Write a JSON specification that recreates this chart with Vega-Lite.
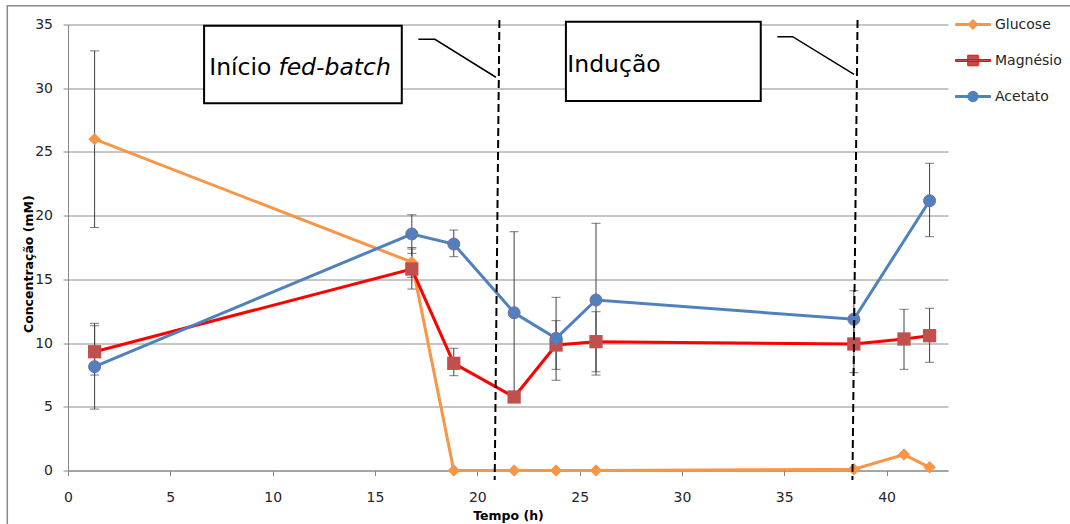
{
  "$schema": "https://vega.github.io/schema/vega-lite/v6.json",
  "width": 880,
  "height": 446,
  "autosize": {"type": "none"},
  "padding": {"left": 68, "top": 24.5, "right": 122, "bottom": 53.5},
  "background": "white",
  "config": {
    "view": {"stroke": null},
    "font": "DejaVu Sans",
    "axis": {
      "labelFont": "DejaVu Sans",
      "labelFontSize": 14,
      "labelColor": "#262626",
      "titleFont": "DejaVu Sans",
      "titleFontSize": 12.5,
      "titleFontWeight": "bold",
      "titleColor": "#000000",
      "domainColor": "#868686",
      "tickColor": "#868686",
      "tickSize": 5,
      "gridColor": "#8c8c8c",
      "labelFlush": false,
      "labelOverlap": false,
      "labelBound": false
    },
    "axisX": {"grid": false, "labelPadding": 15, "titleY": 49, "titleBaseline": "alphabetic"},
    "axisY": {"grid": true, "labelPadding": 10.5, "titleX": -36, "titleY": 239.2, "titleAngle": -90, "titleBaseline": "alphabetic", "titleAlign": "center"}
  },
  "datasets": {
    "series": [
      {"s": "Glucose", "t": 1.3, "v": 26.0, "lo": 19.07, "hi": 32.93},
      {"s": "Glucose", "t": 16.8, "v": 16.35, "lo": 15.16, "hi": 17.5},
      {"s": "Glucose", "t": 18.85, "v": 0.0, "lo": null, "hi": null},
      {"s": "Glucose", "t": 21.8, "v": 0.0, "lo": null, "hi": null},
      {"s": "Glucose", "t": 23.85, "v": 0.0, "lo": null, "hi": null},
      {"s": "Glucose", "t": 25.8, "v": 0.0, "lo": null, "hi": null},
      {"s": "Glucose", "t": 38.4, "v": 0.1, "lo": null, "hi": null},
      {"s": "Glucose", "t": 40.85, "v": 1.25, "lo": null, "hi": null},
      {"s": "Glucose", "t": 42.1, "v": 0.25, "lo": null, "hi": null},
      {"s": "Magnésio", "t": 1.3, "v": 9.32, "lo": 7.49, "hi": 11.36},
      {"s": "Magnésio", "t": 16.8, "v": 15.81, "lo": 14.24, "hi": 17.38},
      {"s": "Magnésio", "t": 18.85, "v": 8.41, "lo": 7.44, "hi": 9.59},
      {"s": "Magnésio", "t": 21.8, "v": 5.77, "lo": null, "hi": null},
      {"s": "Magnésio", "t": 23.85, "v": 9.85, "lo": 7.94, "hi": 11.76},
      {"s": "Magnésio", "t": 25.8, "v": 10.11, "lo": 7.75, "hi": 12.46},
      {"s": "Magnésio", "t": 38.4, "v": 9.93, "lo": 7.68, "hi": 12.18},
      {"s": "Magnésio", "t": 40.85, "v": 10.32, "lo": 7.94, "hi": 12.65},
      {"s": "Magnésio", "t": 42.1, "v": 10.58, "lo": 8.49, "hi": 12.73},
      {"s": "Acetato", "t": 1.3, "v": 8.15, "lo": 4.82, "hi": 11.55},
      {"s": "Acetato", "t": 16.8, "v": 18.56, "lo": 17.04, "hi": 20.07},
      {"s": "Acetato", "t": 18.85, "v": 17.77, "lo": 16.78, "hi": 18.87},
      {"s": "Acetato", "t": 21.8, "v": 12.38, "lo": 6.02, "hi": 18.74},
      {"s": "Acetato", "t": 23.85, "v": 10.37, "lo": 7.08, "hi": 13.59},
      {"s": "Acetato", "t": 25.8, "v": 13.38, "lo": 7.49, "hi": 19.4},
      {"s": "Acetato", "t": 38.4, "v": 11.87, "lo": 9.63, "hi": 14.11},
      {"s": "Acetato", "t": 42.1, "v": 21.17, "lo": 18.35, "hi": 24.11}
    ],
    "frame": [{"x": -2.966, "x2": 49.5, "y": 36.475, "y2": -5}],
    "boxes": [
      {"x": 6.65, "x2": 16.31, "y": 34.91, "y2": 28.82},
      {"x": 24.33, "x2": 33.85, "y": 35.22, "y2": 29.0}
    ],
    "dashes": [
      {"x": 21.08, "y": 35.35, "x2": 20.85, "y2": -0.75},
      {"x": 38.58, "y": 35.35, "x2": 38.33, "y2": -0.75}
    ],
    "callouts": [
      {"id": 1, "o": 1, "x": 17.12, "y": 33.84},
      {"id": 1, "o": 2, "x": 17.93, "y": 33.84},
      {"id": 1, "o": 3, "x": 20.91, "y": 30.86},
      {"id": 2, "o": 1, "x": 34.66, "y": 34.04},
      {"id": 2, "o": 2, "x": 35.41, "y": 34.04},
      {"id": 2, "o": 3, "x": 38.41, "y": 31.09}
    ],
    "textNormal": [
      {"label": "Início", "x": 6.9, "y": 31.04},
      {"label": "Indução", "x": 24.4, "y": 31.3}
    ],
    "textItalic": [
      {"label": "fed-batch", "x": 10.28, "y": 31.04}
    ],
    "legendKeys": [{"s": "Glucose", "x": -100, "y": -100}, {"s": "Magnésio", "x": -100, "y": -100}, {"s": "Acetato", "x": -100, "y": -100}]
  },
  "layer": [
    {
      "data": {"name": "frame"},
      "mark": {"type": "rect", "filled": false, "stroke": "#8a8a8a", "strokeWidth": 1.5},
      "encoding": {
        "x": {"field": "x", "type": "quantitative", "scale": {"domain": [0, 43], "nice": false, "zero": false}, "title": "Tempo (h)", "axis": {"values": [0, 5, 10, 15, 20, 25, 30, 35, 40]}},
        "x2": {"field": "x2"},
        "y": {"field": "y", "type": "quantitative", "scale": {"domain": [0, 35], "nice": false}, "title": "Concentração (mM)", "axis": {"values": [0, 5, 10, 15, 20, 25, 30, 35]}},
        "y2": {"field": "y2"}
      }
    },
    {
      "data": {"name": "series"},
      "transform": [{"filter": {"field": "lo", "valid": true}}],
      "mark": {"type": "rule", "color": "#404040", "strokeWidth": 1},
      "encoding": {
        "x": {"field": "t", "type": "quantitative", "title": "Tempo (h)", "axis": {"values": [0, 5, 10, 15, 20, 25, 30, 35, 40]}},
        "y": {"field": "lo", "type": "quantitative", "title": "Concentração (mM)", "axis": {"values": [0, 5, 10, 15, 20, 25, 30, 35]}},
        "y2": {"field": "hi"}
      }
    },
    {
      "data": {"name": "series"},
      "transform": [{"filter": {"field": "lo", "valid": true}}],
      "mark": {"type": "tick", "orient": "horizontal", "color": "#404040", "size": 9, "thickness": 1},
      "encoding": {
        "x": {"field": "t", "type": "quantitative", "title": "Tempo (h)", "axis": {"values": [0, 5, 10, 15, 20, 25, 30, 35, 40]}},
        "y": {"field": "lo", "type": "quantitative", "title": "Concentração (mM)", "axis": {"values": [0, 5, 10, 15, 20, 25, 30, 35]}}
      }
    },
    {
      "data": {"name": "series"},
      "transform": [{"filter": {"field": "hi", "valid": true}}],
      "mark": {"type": "tick", "orient": "horizontal", "color": "#404040", "size": 9, "thickness": 1},
      "encoding": {
        "x": {"field": "t", "type": "quantitative", "title": "Tempo (h)", "axis": {"values": [0, 5, 10, 15, 20, 25, 30, 35, 40]}},
        "y": {"field": "hi", "type": "quantitative", "title": "Concentração (mM)", "axis": {"values": [0, 5, 10, 15, 20, 25, 30, 35]}}
      }
    },
    {
      "data": {"name": "series"},
      "transform": [{"filter": "datum.s === 'Glucose'"}],
      "mark": {"type": "line", "color": "#F79646", "strokeWidth": 3},
      "encoding": {
        "x": {"field": "t", "type": "quantitative", "title": "Tempo (h)", "axis": {"values": [0, 5, 10, 15, 20, 25, 30, 35, 40]}},
        "y": {"field": "v", "type": "quantitative", "title": "Concentração (mM)", "axis": {"values": [0, 5, 10, 15, 20, 25, 30, 35]}}
      }
    },
    {
      "data": {"name": "series"},
      "transform": [{"filter": "datum.s === 'Glucose'"}],
      "mark": {"type": "point", "shape": "diamond", "filled": true, "fill": "#F79646", "stroke": "#F79646", "strokeWidth": 1, "size": 130, "opacity": 1},
      "encoding": {
        "x": {"field": "t", "type": "quantitative", "title": "Tempo (h)", "axis": {"values": [0, 5, 10, 15, 20, 25, 30, 35, 40]}},
        "y": {"field": "v", "type": "quantitative", "title": "Concentração (mM)", "axis": {"values": [0, 5, 10, 15, 20, 25, 30, 35]}}
      }
    },
    {
      "data": {"name": "series"},
      "transform": [{"filter": "datum.s === 'Magnésio'"}],
      "mark": {"type": "line", "color": "#FF0000", "strokeWidth": 3},
      "encoding": {
        "x": {"field": "t", "type": "quantitative", "title": "Tempo (h)", "axis": {"values": [0, 5, 10, 15, 20, 25, 30, 35, 40]}},
        "y": {"field": "v", "type": "quantitative", "title": "Concentração (mM)", "axis": {"values": [0, 5, 10, 15, 20, 25, 30, 35]}}
      }
    },
    {
      "data": {"name": "series"},
      "transform": [{"filter": "datum.s === 'Magnésio'"}],
      "mark": {"type": "point", "shape": "square", "filled": true, "fill": "#C0504D", "strokeWidth": 0, "size": 176, "opacity": 1},
      "encoding": {
        "x": {"field": "t", "type": "quantitative", "title": "Tempo (h)", "axis": {"values": [0, 5, 10, 15, 20, 25, 30, 35, 40]}},
        "y": {"field": "v", "type": "quantitative", "title": "Concentração (mM)", "axis": {"values": [0, 5, 10, 15, 20, 25, 30, 35]}}
      }
    },
    {
      "data": {"name": "series"},
      "transform": [{"filter": "datum.s === 'Acetato'"}],
      "mark": {"type": "line", "color": "#4F81BD", "strokeWidth": 3},
      "encoding": {
        "x": {"field": "t", "type": "quantitative", "title": "Tempo (h)", "axis": {"values": [0, 5, 10, 15, 20, 25, 30, 35, 40]}},
        "y": {"field": "v", "type": "quantitative", "title": "Concentração (mM)", "axis": {"values": [0, 5, 10, 15, 20, 25, 30, 35]}}
      }
    },
    {
      "data": {"name": "series"},
      "transform": [{"filter": "datum.s === 'Acetato'"}],
      "mark": {"type": "point", "shape": "circle", "filled": true, "fill": "#4F81BD", "stroke": "#8064A2", "strokeWidth": 1, "size": 144, "opacity": 1},
      "encoding": {
        "x": {"field": "t", "type": "quantitative", "title": "Tempo (h)", "axis": {"values": [0, 5, 10, 15, 20, 25, 30, 35, 40]}},
        "y": {"field": "v", "type": "quantitative", "title": "Concentração (mM)", "axis": {"values": [0, 5, 10, 15, 20, 25, 30, 35]}}
      }
    },
    {
      "data": {"name": "boxes"},
      "mark": {"type": "rect", "fill": "white", "stroke": "black", "strokeWidth": 2},
      "encoding": {
        "x": {"field": "x", "type": "quantitative", "title": "Tempo (h)", "axis": {"values": [0, 5, 10, 15, 20, 25, 30, 35, 40]}},
        "x2": {"field": "x2"},
        "y": {"field": "y", "type": "quantitative", "title": "Concentração (mM)", "axis": {"values": [0, 5, 10, 15, 20, 25, 30, 35]}},
        "y2": {"field": "y2"}
      }
    },
    {
      "data": {"name": "textNormal"},
      "mark": {"type": "text", "font": "DejaVu Sans", "fontSize": 23.5, "align": "left", "baseline": "alphabetic", "color": "black"},
      "encoding": {
        "x": {"field": "x", "type": "quantitative", "title": "Tempo (h)", "axis": {"values": [0, 5, 10, 15, 20, 25, 30, 35, 40]}},
        "y": {"field": "y", "type": "quantitative", "title": "Concentração (mM)", "axis": {"values": [0, 5, 10, 15, 20, 25, 30, 35]}},
        "text": {"field": "label"}
      }
    },
    {
      "data": {"name": "textItalic"},
      "mark": {"type": "text", "font": "DejaVu Sans", "fontSize": 23.5, "fontStyle": "italic", "align": "left", "baseline": "alphabetic", "color": "black"},
      "encoding": {
        "x": {"field": "x", "type": "quantitative", "title": "Tempo (h)", "axis": {"values": [0, 5, 10, 15, 20, 25, 30, 35, 40]}},
        "y": {"field": "y", "type": "quantitative", "title": "Concentração (mM)", "axis": {"values": [0, 5, 10, 15, 20, 25, 30, 35]}},
        "text": {"field": "label"}
      }
    },
    {
      "data": {"name": "callouts"},
      "mark": {"type": "line", "color": "black", "strokeWidth": 1.5},
      "encoding": {
        "x": {"field": "x", "type": "quantitative", "title": "Tempo (h)", "axis": {"values": [0, 5, 10, 15, 20, 25, 30, 35, 40]}},
        "y": {"field": "y", "type": "quantitative", "title": "Concentração (mM)", "axis": {"values": [0, 5, 10, 15, 20, 25, 30, 35]}},
        "detail": {"field": "id"},
        "order": {"field": "o"}
      }
    },
    {
      "data": {"name": "dashes"},
      "mark": {"type": "rule", "color": "black", "strokeWidth": 2, "strokeDash": [8, 4]},
      "encoding": {
        "x": {"field": "x", "type": "quantitative", "title": "Tempo (h)", "axis": {"values": [0, 5, 10, 15, 20, 25, 30, 35, 40]}},
        "x2": {"field": "x2"},
        "y": {"field": "y", "type": "quantitative", "title": "Concentração (mM)", "axis": {"values": [0, 5, 10, 15, 20, 25, 30, 35]}},
        "y2": {"field": "y2"}
      }
    },
    {
      "data": {"name": "legendKeys"},
      "mark": {"type": "point", "filled": true, "clip": true, "opacity": 1},
      "encoding": {
        "x": {"field": "x", "type": "quantitative", "title": "Tempo (h)", "axis": {"values": [0, 5, 10, 15, 20, 25, 30, 35, 40]}},
        "y": {"field": "y", "type": "quantitative", "title": "Concentração (mM)", "axis": {"values": [0, 5, 10, 15, 20, 25, 30, 35]}},
        "shape": {
          "field": "s", "type": "nominal",
          "scale": {"domain": ["Glucose", "Magnésio", "Acetato"], "range": [
            "M-1,-0.057H1V0.057H-1Z M0,-0.286L0.286,0L0,0.286L-0.286,0Z",
            "M-1,-0.057H1V0.057H-1Z M-0.3,-0.3H0.3V0.3H-0.3Z",
            "M-1,-0.057H1V0.057H-1Z M-0.297,0A0.297,0.297 0 1,1 0.297,0A0.297,0.297 0 1,1 -0.297,0Z"
          ]},
          "legend": {"orient": "none", "legendX": 887, "legendY": -18, "title": null, "symbolSize": 1225, "symbolStrokeWidth": 1, "symbolOpacity": 1, "labelFont": "DejaVu Sans", "labelFontSize": 14, "labelColor": "#262626", "labelOffset": 4, "padding": 0, "rowPadding": 10}
        },
        "fill": {
          "field": "s", "type": "nominal",
          "scale": {"domain": ["Glucose", "Magnésio", "Acetato"], "range": ["#F79646", "#C0504D", "#4F81BD"]},
          "legend": {"orient": "none", "legendX": 887, "legendY": -18, "title": null, "symbolSize": 1225, "symbolStrokeWidth": 1, "symbolOpacity": 1, "labelFont": "DejaVu Sans", "labelFontSize": 14, "labelColor": "#262626", "labelOffset": 4, "padding": 0, "rowPadding": 10}
        },
        "stroke": {
          "field": "s", "type": "nominal",
          "scale": {"domain": ["Glucose", "Magnésio", "Acetato"], "range": ["#F79646", "#FF0000", "#4F81BD"]},
          "legend": {"orient": "none", "legendX": 887, "legendY": -18, "title": null, "symbolSize": 1225, "symbolStrokeWidth": 1, "symbolOpacity": 1, "labelFont": "DejaVu Sans", "labelFontSize": 14, "labelColor": "#262626", "labelOffset": 4, "padding": 0, "rowPadding": 10}
        }
      }
    }
  ]
}
